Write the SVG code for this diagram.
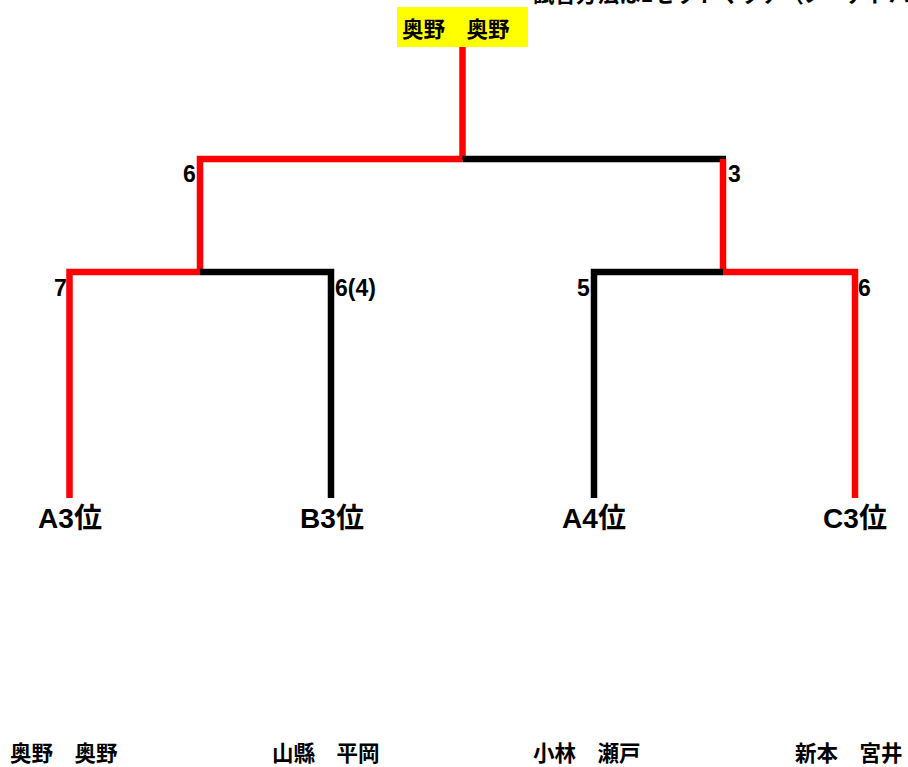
<svg xmlns="http://www.w3.org/2000/svg" width="908" height="767" viewBox="0 0 908 767">
<style>
.r{stroke:#ff0000;stroke-width:6.5;fill:none;stroke-linecap:butt}
.k{stroke:#000;stroke-width:6.5;fill:none;stroke-linecap:butt}
.sc{font-family:"Liberation Sans Narrow","Liberation Sans","Noto Sans CJK JP",sans-serif;font-weight:bold;font-size:23px;fill:#000}
.lab{font-family:"Liberation Sans","Noto Sans CJK JP",sans-serif;font-weight:bold;font-size:28px;fill:#000;text-anchor:middle}
.nm{font-family:"Noto Sans CJK JP",sans-serif;font-weight:bold;font-size:21.5px;fill:#000}
</style>
<rect width="908" height="767" fill="#fff"/>
<text class="nm" x="533" y="1.5">試合方法は1セットマッチ（ノーアドバンテージ）</text>
<g id="winner">
<rect x="397" y="7" width="131" height="40" fill="#ffff00"/>
<text class="nm" x="402" y="37">奥野　奥野</text>
</g>
<g id="connectors">
<line class="r" x1="462.5" y1="47" x2="462.5" y2="160"/>
<polyline class="r" points="200,272 200,159 462.5,159"/>
<line class="k" x1="462.5" y1="159" x2="726" y2="159"/>
<line class="r" x1="723" y1="159" x2="723" y2="272"/>
<polyline class="r" points="69.5,498 69.5,272 200,272"/>
<polyline class="k" points="200,272 331,272 331,498"/>
<polyline class="k" points="594,498 594,272 723,272"/>
<polyline class="r" points="723,272 855,272 855,498"/>
</g>
<g id="scores">
<text class="sc" x="183" y="182">6</text>
<text class="sc" x="728" y="182">3</text>
<text class="sc" x="54" y="296">7</text>
<text class="sc" x="335" y="296">6(4)</text>
<text class="sc" x="577" y="296">5</text>
<text class="sc" x="858" y="296">6</text>
</g>
<g id="A3"><text class="lab" x="70" y="528">A3位</text><text class="nm" x="10" y="761">奥野　奥野</text></g>
<g id="B3"><text class="lab" x="332" y="528">B3位</text><text class="nm" x="272" y="761">山縣　平岡</text></g>
<g id="A4"><text class="lab" x="594" y="528">A4位</text><text class="nm" x="533" y="761">小林　瀬戸</text></g>
<g id="C3"><text class="lab" x="855" y="528">C3位</text><text class="nm" x="795" y="761">新本　宮井</text></g>
</svg>
